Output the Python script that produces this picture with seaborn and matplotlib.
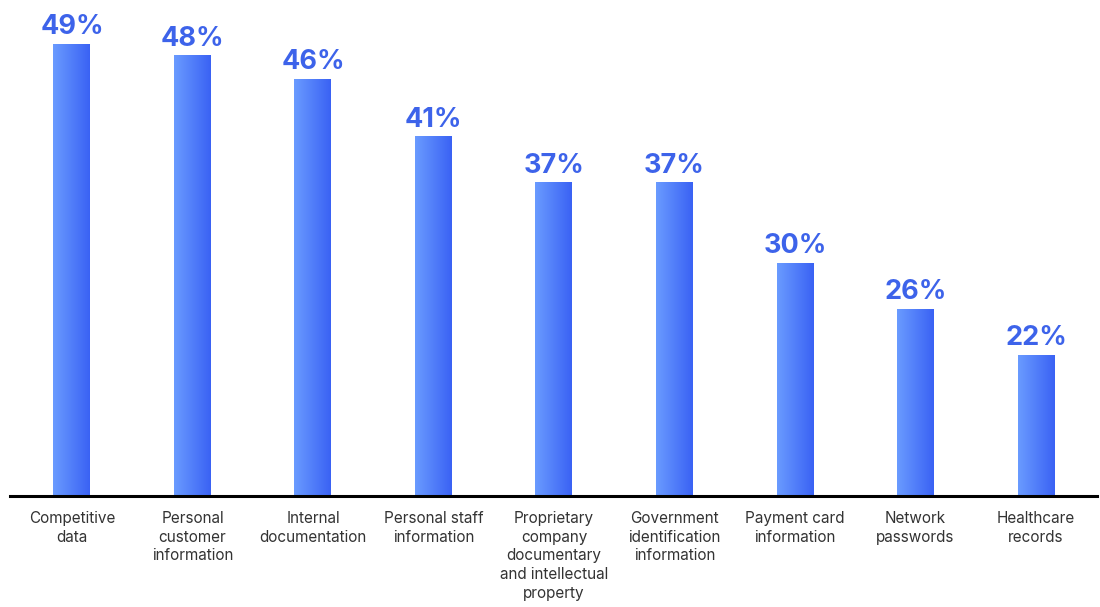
import numpy as np
import pandas as pd
import matplotlib
matplotlib.use("Agg")
import matplotlib.pyplot as plt
from matplotlib.colors import LinearSegmentedColormap
import seaborn as sns

categories = [
    "Competitive\ndata",
    "Personal\ncustomer\ninformation",
    "Internal\ndocumentation",
    "Personal staff\ninformation",
    "Proprietary\ncompany\ndocumentary\nand intellectual\nproperty",
    "Government\nidentification\ninformation",
    "Payment card\ninformation",
    "Network\npasswords",
    "Healthcare\nrecords",
]
values = [49, 48, 46, 41, 37, 37, 30, 26, 22]

sns.set_theme(style="white")
plt.rcParams["font.family"] = ["Inter", "DejaVu Sans"]

df = pd.DataFrame({"category": categories, "value": values})

fig = plt.figure(figsize=(11, 6.07), dpi=100)
ax = fig.add_axes([10 / 1100, 111 / 607, 1087 / 1100, 496 / 607])

sns.barplot(data=df, x="category", y="value", ax=ax, width=0.307,
            color="#4f7cf8", saturation=1)

ymin, ymax = 9.8, 52.86
ax.set_ylim(ymin, ymax)
ax.set_xlim(-0.514, 8.506)

# horizontal gradient fill on each bar, starting at the visible baseline
cmap = LinearSegmentedColormap.from_list("bar", ["#6a9bff", "#3a62f4"])
grad = np.linspace(0, 1, 256).reshape(1, -1)
for patch, val in zip(ax.patches, values):
    x0, w = patch.get_x(), patch.get_width()
    top = patch.get_y() + patch.get_height()
    ax.imshow(grad, cmap=cmap, aspect="auto",
              extent=[x0, x0 + w, ymin, top], zorder=patch.get_zorder() + 0.1)
    ax.text(x0 + w / 2, top + 0.35, f"{val}%",
            ha="center", va="bottom", fontsize=19.5, fontweight="bold",
            color="#3d63ea")

ax.set_xlabel("")
ax.set_ylabel("")
ax.set_yticks([])
ax.tick_params(axis="x", length=0, pad=11, labelsize=11, labelcolor="#333333")
for lbl in ax.get_xticklabels():
    lbl.set_linespacing(1.3)
    lbl.set_va("top")

for side in ["top", "right", "left"]:
    ax.spines[side].set_visible(False)
ax.spines["bottom"].set_color("black")
ax.spines["bottom"].set_linewidth(2.2)
ax.spines["bottom"].set_zorder(5)

fig.savefig("out.png", dpi=100, facecolor="white")
